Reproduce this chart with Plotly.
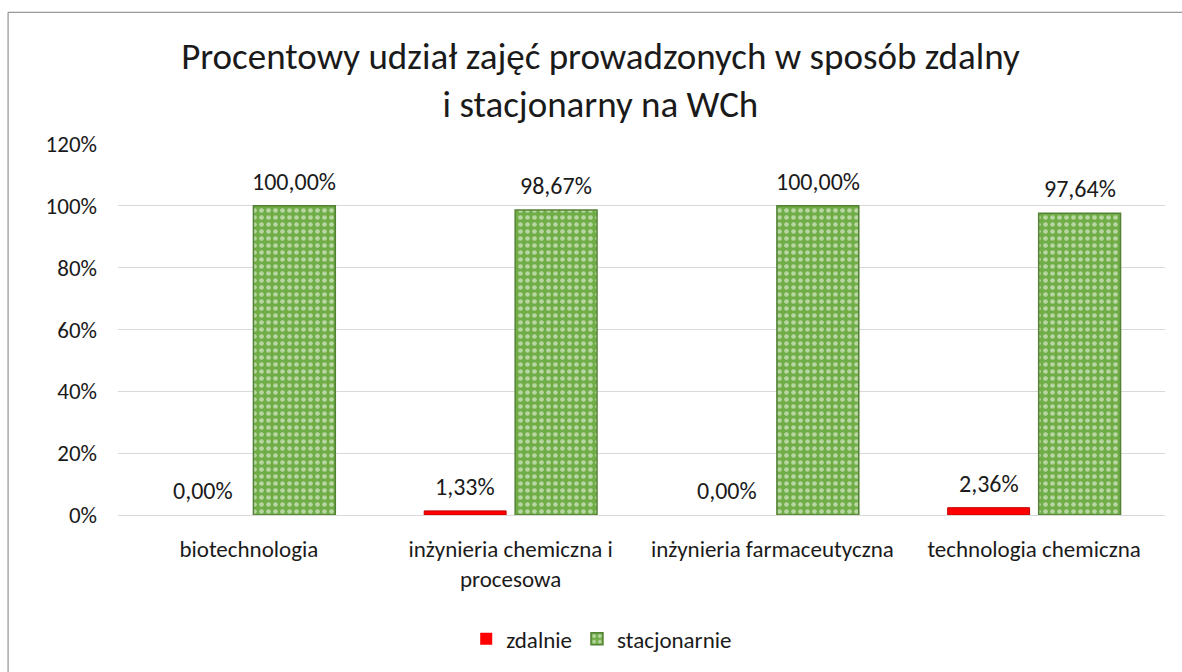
import plotly.graph_objects as go

categories = ["biotechnologia", "inżynieria chemiczna i<br>procesowa",
              "inżynieria farmaceutyczna", "technologia chemiczna"]
zdalnie = [0.00, 1.33, 0.00, 2.36]
stacjonarnie = [100.00, 98.67, 100.00, 97.64]
y_ticks = [0, 20, 40, 60, 80, 100, 120]

FONT = "Carlito, Lato, sans-serif"
TXT = "#1a1a1a"

def fmt(v):
    return f"{v:.2f}%".replace(".", ",")

fig = go.Figure()
fig.add_trace(go.Bar(
    x=categories, y=zdalnie, name="zdalnie",
    marker=dict(color="#FF0000",
                line=dict(color="#C00000", width=[0 if v == 0 else 1 for v in zdalnie])),
))
fig.add_trace(go.Bar(
    x=categories, y=stacjonarnie, name="stacjonarnie",
    marker=dict(color="#70AD47", line=dict(color="#548235", width=1.5),
                pattern=dict(shape=".", fgcolor="#FFFFFF", bgcolor="#70AD47",
                             size=7, solidity=0.35)),
))

# data labels above the bars (offset to each bar of the group)
plot_w = 1182 - 118 - 17
cat_w = plot_w / len(categories)
slot = (1 - 0.305) * cat_w / 2
for series, sign in ((zdalnie, -1), (stacjonarnie, 1)):
    for c, v in zip(categories, series):
        fig.add_annotation(x=c, y=v, text=fmt(v), showarrow=False,
                           xshift=sign * slot / 2, yshift=8, yanchor="bottom",
                           font=dict(size=24, family=FONT, color=TXT))

fig.update_layout(
    width=1182, height=672,
    margin=dict(l=118, r=17, t=144, b=151),
    paper_bgcolor="white", plot_bgcolor="white",
    font=dict(family=FONT, color=TXT, size=23),
    barmode="group", bargap=0.305, bargroupgap=0.1,
    title=dict(text="Procentowy udział zajęć prowadzonych w sposób zdalny<br>i stacjonarny na WCh",
               x=0.508, xanchor="center", y=0.897, yanchor="middle",
               font=dict(size=37, family=FONT, color=TXT)),
    legend=dict(orientation="h", x=0.462, xanchor="center", y=-0.334, yanchor="middle",
                font=dict(size=23, family=FONT), traceorder="normal",
                itemwidth=30, tracegroupgap=0),
    showlegend=True,
)
fig.update_yaxes(range=[0, 120], tickvals=y_ticks, ticktext=[f"{v}%" for v in y_ticks],
                 showgrid=True, gridcolor="#D9D9D9", gridwidth=1, zeroline=False,
                 showline=False, tickfont=dict(size=23), ticks="", ticklen=0,
                 ticklabelstandoff=20, automargin=False)
fig.update_xaxes(showline=True, linecolor="#D9D9D9", linewidth=1, ticks="",
                 tickfont=dict(size=23), ticklabelstandoff=13, automargin=False)

fig.add_shape(type="rect", xref="paper", yref="paper",
              x0=-0.105, x1=1.03, y0=-0.45, y1=1.355,
              line=dict(color="#7F7F7F", width=1), fillcolor="rgba(0,0,0,0)", layer="below")

fig.write_html("out.html", config={"displayModeBar": False},
               post_script="document.body.style.margin='0';")
